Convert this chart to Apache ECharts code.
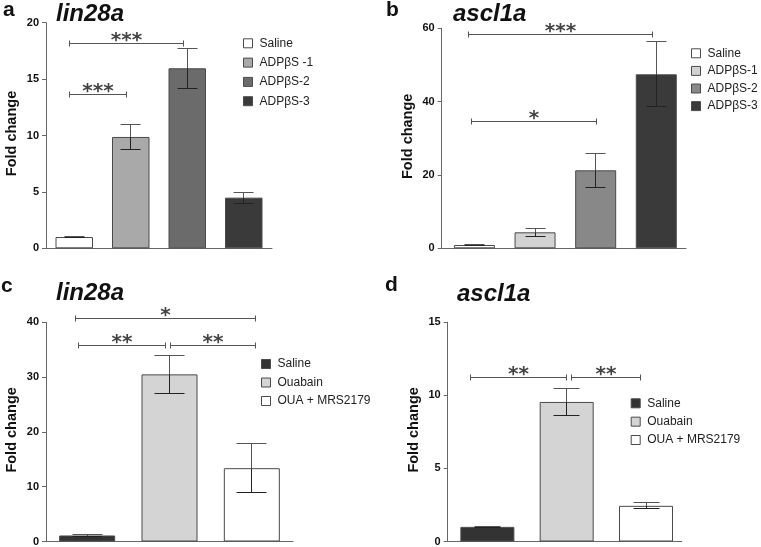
<!DOCTYPE html>
<html><head><meta charset="utf-8">
<script src="https://cdn.jsdelivr.net/npm/echarts@6/dist/echarts.min.js"></script>
<style>html,body{margin:0;padding:0;background:#fff}#c{width:761px;height:547px}</style>
</head><body><div id="c"></div>
<script>
// ---------- Panel a : lin28a ----------
const aCategories = ['Saline', 'ADPβS -1', 'ADPβS-2', 'ADPβS-3'];
const aMeans = [1.0, 9.87, 15.96, 4.49];
const aErrors = [0.06, 1.09, 1.79, 0.5];
const aTicks = [0, 5, 10, 15, 20];
const aBracketFrom = [-0.09, -0.09];
const aBracketTo = [0.93, 1.93];
const aBracketY = [13.65, 18.2];
const aBracketLabel = ['***', '***'];

// ---------- Panel b : ascl1a ----------
const bCategories = ['Saline', 'ADPβS-1', 'ADPβS-2', 'ADPβS-3'];
const bMeans = [0.9, 4.36, 21.27, 47.45];
const bErrors = [0.1, 1.04, 4.6, 8.9];
const bTicks = [0, 20, 40, 60];
const bBracketFrom = [-0.10, -0.045];
const bBracketTo = [2.94, 2.02];
const bBracketY = [58.2, 34.45];
const bBracketLabel = ['***', '*'];

// ---------- Panel c : lin28a ----------
const cCategories = ['Saline', 'Ouabain', 'OUA + MRS2179'];
const cMeans = [1.1, 30.5, 13.38];
const cErrors = [0.1, 3.45, 4.44];
const cTicks = [0, 10, 20, 30, 40];
const cBracketFrom = [-0.14, -0.11, 1.01];
const cBracketTo = [2.05, 0.95, 2.04];
const cBracketY = [40.7, 35.7, 35.7];
const cBracketLabel = ['*', '**', '**'];

// ---------- Panel d : ascl1a ----------
const dCategories = ['Saline', 'Ouabain', 'OUA + MRS2179'];
const dMeans = [1.0, 9.55, 2.44];
const dErrors = [0.03, 0.93, 0.2];
const dTicks = [0, 5, 10, 15];
const dBracketFrom = [-0.21, 1.06];
const dBracketTo = [1.0, 1.93];
const dBracketY = [11.21, 11.21];
const dBracketLabel = ['**', '**'];

const panelLetters = ['a', 'b', 'c', 'd'];
const panelGenes = ['lin28a', 'ascl1a', 'lin28a', 'ascl1a'];
const yAxisTitle = 'Fold change';

// ---------- styles / layout ----------
const FONT = "'Liberation Sans', Arial, Helvetica, sans-serif";
const panels = [
  { key: 'a', cats: aCategories, means: aMeans, errs: aErrors, ticks: aTicks,
    br: [aBracketFrom, aBracketTo, aBracketY, aBracketLabel],
    colors: ['#ffffff', '#a9a9a9', '#6b6b6b', '#3a3a3a'],
    grid: { left: 46, top: 22.7, width: 226, height: 225.6 }, xMin: -0.5, xMax: 3.5,
    barWidth: 37.5, cap: 10, nameGap: 27,
    legend: { left: 243, top: 36.3, itemGap: 5.3 } },
  { key: 'b', cats: bCategories, means: bMeans, errs: bErrors, ticks: bTicks,
    br: [bBracketFrom, bBracketTo, bBracketY, bBracketLabel],
    colors: ['#ffffff', '#d2d2d2', '#888888', '#3a3a3a'],
    grid: { left: 441.7, top: 28.3, width: 244.3, height: 220 }, xMin: -0.54, xMax: 3.49,
    barWidth: 41, cap: 10, nameGap: 26,
    legend: { left: 691, top: 46.3, itemGap: 3.6 } },
  { key: 'c', cats: cCategories, means: cMeans, errs: cErrors, ticks: cTicks,
    br: [cBracketFrom, cBracketTo, cBracketY, cBracketLabel],
    colors: ['#333333', '#d4d4d4', '#ffffff'],
    grid: { left: 46, top: 322.3, width: 247, height: 219.4 }, xMin: -0.5, xMax: 2.5,
    barWidth: 56, cap: 15, nameGap: 27,
    legend: { left: 261, top: 357, itemGap: 4.5 } },
  { key: 'd', cats: dCategories, means: dMeans, errs: dErrors, ticks: dTicks,
    br: [dBracketFrom, dBracketTo, dBracketY, dBracketLabel],
    colors: ['#333333', '#d4d4d4', '#ffffff'],
    grid: { left: 447.7, top: 322.3, width: 234, height: 219.4 }, xMin: -0.5, xMax: 2.45,
    barWidth: 54, cap: 13, nameGap: 26,
    legend: { left: 630.7, top: 396.3, itemGap: 4.35 } }
];
const titlePos = [
  { letter: [3, 10], gene: [56, 14.5] },
  { letter: [386, 10], gene: [453, 14.5] },
  { letter: [1, 286], gene: [56, 293] },
  { letter: [385, 285], gene: [457, 294] }
];

const grids = [], xAxes = [], yAxes = [], series = [], legends = [], graphics = [];
const crisp = v => Math.round(v - 0.5) + 0.5;

panels.forEach((p, k) => {
  grids.push(Object.assign({ containLabel: false }, p.grid));
  xAxes.push({ type: 'value', gridIndex: k, min: p.xMin, max: p.xMax,
    axisLine: { show: true, onZero: false, lineStyle: { color: '#666', width: 1 } },
    axisTick: { show: false }, axisLabel: { show: false }, splitLine: { show: false } });
  yAxes.push({ type: 'value', gridIndex: k, min: p.ticks[0], max: p.ticks[p.ticks.length - 1],
    interval: p.ticks[1] - p.ticks[0],
    name: yAxisTitle, nameLocation: 'middle', nameGap: p.nameGap,
    nameTextStyle: { fontFamily: FONT, fontWeight: 'bold', fontSize: 14.5, color: '#111', padding: [0, 0, 0, 4] },
    axisLine: { show: true, onZero: false, lineStyle: { color: '#666', width: 1 } },
    axisTick: { show: true, length: 4, lineStyle: { color: '#666' } },
    axisLabel: { fontFamily: FONT, fontWeight: 'bold', fontSize: 11, color: '#111', margin: 7 },
    splitLine: { show: false } });

  const names = [];
  p.cats.forEach((cat, i) => {
    const nm = p.key + '|' + cat;
    names.push(nm);
    series.push({ type: 'bar', name: nm, xAxisIndex: k, yAxisIndex: k,
      data: [[i, p.means[i]]], barWidth: p.barWidth, barGap: '-100%',
      itemStyle: { color: p.colors[i], borderColor: '#4a4a4a', borderWidth: 1 },
      emphasis: { disabled: true }, animation: false, z: 2 });
  });

  // error bars (upper half over white background is lighter, lower half darker)
  series.push({ type: 'custom', xAxisIndex: k, yAxisIndex: k, z: 5, silent: true,
    data: p.means.map((m, i) => [i, m - p.errs[i], m + p.errs[i], m]),
    encode: { x: 0, y: [1, 2] },
    renderItem: (params, api) => {
      const lo = api.coord([api.value(0), api.value(1)]);
      const hi = api.coord([api.value(0), api.value(2)]);
      const mid = api.coord([api.value(0), api.value(3)]);
      const x = crisp(lo[0]), y1 = crisp(lo[1]), y2 = crisp(hi[1]), ym = crisp(mid[1]);
      const up = { stroke: '#555', lineWidth: 1 };
      const dn = { stroke: '#222', lineWidth: 1 };
      return { type: 'group', children: [
        { type: 'line', shape: { x1: x, y1: ym, x2: x, y2: y2 }, style: up },
        { type: 'line', shape: { x1: x, y1: y1, x2: x, y2: ym }, style: dn },
        { type: 'line', shape: { x1: x - p.cap, y1: y1, x2: x + p.cap, y2: y1 }, style: dn },
        { type: 'line', shape: { x1: x - p.cap, y1: y2, x2: x + p.cap, y2: y2 }, style: up }
      ] };
    } });

  // significance brackets
  const [bf, bt, by, bl] = p.br;
  series.push({ type: 'custom', xAxisIndex: k, yAxisIndex: k, z: 6, silent: true, clip: false,
    data: bf.map((f, i) => [f, bt[i], by[i]]),
    encode: { x: [0, 1], y: 2 },
    renderItem: (params, api) => {
      const a = api.coord([api.value(0), api.value(2)]);
      const b = api.coord([api.value(1), api.value(2)]);
      const y = crisp(a[1]), x1 = crisp(a[0]), x2 = crisp(b[0]);
      const st = { stroke: '#555', lineWidth: 1 };
      return { type: 'group', children: [
        { type: 'line', shape: { x1: x1, y1: y, x2: x2, y2: y }, style: st },
        { type: 'line', shape: { x1: x1, y1: y - 3, x2: x1, y2: y + 3 }, style: st },
        { type: 'line', shape: { x1: x2, y1: y - 3, x2: x2, y2: y + 3 }, style: st },
        { type: 'text', style: { text: bl[params.dataIndex], x: (x1 + x2) / 2, y: y - 3,
          align: 'center', verticalAlign: 'middle', fill: '#444',
          font: "bold 20px 'DejaVu Sans', sans-serif" } }
      ] };
    } });

  legends.push({ show: true, orient: 'vertical', left: p.legend.left, top: p.legend.top,
    data: names, itemWidth: 9, itemHeight: 9, itemGap: p.legend.itemGap, icon: 'rect',
    selectedMode: false, padding: 0,
    itemStyle: { borderColor: '#4a4a4a', borderWidth: 1 },
    formatter: n => n.split('|')[1],
    textStyle: { fontFamily: FONT, fontSize: 12, color: '#222', lineHeight: 14, padding: [0, 0, 0, 2] } });

  graphics.push({ type: 'text', x: titlePos[k].letter[0], y: titlePos[k].letter[1],
    style: { text: panelLetters[k], font: "bold 21px " + FONT, fill: '#111', verticalAlign: 'middle' } });
  graphics.push({ type: 'text', x: titlePos[k].gene[0], y: titlePos[k].gene[1],
    style: { text: panelGenes[k], font: "italic bold 24px " + FONT, fill: '#111', verticalAlign: 'middle' } });
});

const chart = echarts.init(document.getElementById('c'), null, { renderer: 'canvas' });
chart.setOption({
  animation: false,
  backgroundColor: '#ffffff',
  grid: grids, xAxis: xAxes, yAxis: yAxes, series: series, legend: legends,
  graphic: graphics
});
</script></body></html>
